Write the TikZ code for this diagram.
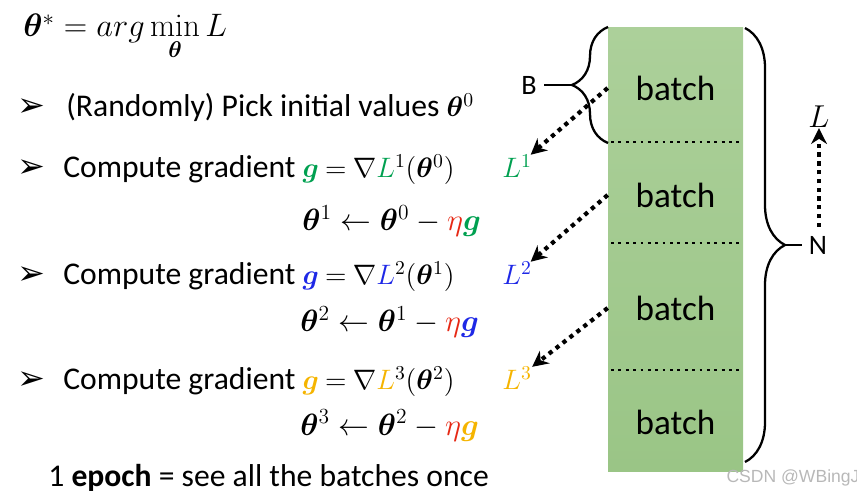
\RequirePackage{fix-cm}
\documentclass[tikz,border=0pt]{standalone}
\usepackage[no-math]{fontspec}
\setmainfont{Carlito}
\newfontfamily\symfont{DejaVu Sans}
\newfontfamily\wmfont{Liberation Sans}
\usepackage{amsmath,bm}
\usetikzlibrary{arrows.meta,decorations.pathreplacing}
\definecolor{ggreen}{RGB}{0,160,80}
\definecolor{gblue}{RGB}{30,40,230}
\definecolor{gorange}{RGB}{245,180,0}
\definecolor{etared}{RGB}{230,40,20}
\definecolor{batchtop}{RGB}{172,208,154}
\definecolor{batchbot}{RGB}{154,197,134}
\newcommand\inmath[1]{{\fontsize{16}{19}\selectfont\thickmuskip=4mu\medmuskip=3mu$#1$}}
\tikzset{
  line/.style={font=\fontsize{18}{21}\selectfont, anchor=base west, inner sep=0pt},
  update/.style={font=\fontsize{17.5}{21}\selectfont, anchor=base west, inner sep=0pt},
  bullet/.style={font=\fontsize{19}{22}\selectfont\symfont, anchor=base, inner sep=0pt},
  batch/.style={font=\fontsize{20}{24}\selectfont, minimum width=2.7cm, inner sep=0pt},
  dotarrow/.style={line width=2.4pt, dash pattern=on 2.4pt off 2.6pt, -{Stealth[length=9pt,width=9pt]}},
  sep/.style={line width=1.6pt, dash pattern=on 1.6pt off 2.6pt},
  bracket/.style={decorate, decoration={brace, amplitude=#1}, line width=1.3pt}
}
\begin{document}
\begin{tikzpicture}[x=0.02cm, y=0.02cm]
\useasboundingbox (0,0) rectangle (857,493);
\node[line, font=\fontsize{18.5}{22}\selectfont] (obj) at (23,456) {$\bm{\theta}^* = arg\min\limits_{\bm{\theta}} L$};
\node[bullet] (b0) at (31,376) {➢};
\node[bullet] (b1) at (31,315) {➢};
\node[bullet] (b2) at (31,208) {➢};
\node[bullet] (b3) at (31,103) {➢};
\node[line] (init) at (66,376) {(Randomly) Pick initial values \inmath{\bm{\theta}^0}};
\node[line] (grad1) at (63,315) {Compute gradient \inmath{\textcolor{ggreen}{\bm{g}} = \nabla \textcolor{ggreen}{L}^1(\bm{\theta}^0)}};
\node[update] (upd1) at (302,262) {$\bm{\theta}^1 \leftarrow \bm{\theta}^0 - \textcolor{etared}{\eta}\textcolor{ggreen}{\bm{g}}$};
\node[line] (grad2) at (63,208) {Compute gradient \inmath{\textcolor{gblue}{\bm{g}} = \nabla \textcolor{gblue}{L}^2(\bm{\theta}^1)}};
\node[update] (upd2) at (300,161) {$\bm{\theta}^2 \leftarrow \bm{\theta}^1 - \textcolor{etared}{\eta}\textcolor{gblue}{\bm{g}}$};
\node[line] (grad3) at (63,103) {Compute gradient \inmath{\textcolor{gorange}{\bm{g}} = \nabla \textcolor{gorange}{L}^3(\bm{\theta}^2)}};
\node[update] (upd3) at (300,58) {$\bm{\theta}^3 \leftarrow \bm{\theta}^2 - \textcolor{etared}{\eta}\textcolor{gorange}{\bm{g}}$};
\node[line] (epoch) at (48,7) {1 \textbf{epoch} = see all the batches once};
\node[line, ggreen] (lone) at (502,315) {\inmath{L^1}};
\node[line, gblue] (ltwo) at (502,208) {\inmath{L^2}};
\node[line, gorange] (lthree) at (502,103) {\inmath{L^3}};
\shade[top color=batchtop, bottom color=batchbot] (608,22) rectangle (743,465);
\node[batch] (bt1) at (675.5,405) {batch};
\node[batch] (bt2) at (675.5,298) {batch};
\node[batch] (bt3) at (675.5,185) {batch};
\node[batch] (bt4) at (675.5,71) {batch};
\draw[sep] (611,351) -- (741,351);
\draw[sep] (611,250) -- (741,250);
\draw[sep] (611,123) -- (741,123);
\draw[dotarrow] (bt1.west) -- (lone);
\draw[dotarrow] (bt2.west) -- (ltwo);
\draw[dotarrow] (bt3.west) -- (lthree);
\draw[bracket=0.72cm] (608,350) -- (608,466) coordinate[midway, xshift=-0.72cm] (btip);
\node[font=\fontsize{16}{19}\selectfont, inner sep=0pt] (B) at (529,408) {B};
\draw[line width=1.3pt] (B.east) ++(7,0) -- (btip);
\draw[bracket=0.8cm] (745,465) -- (745,31) coordinate[midway, xshift=0.8cm] (ntip);
\node[font=\fontsize{16}{19}\selectfont, inner sep=0pt] (N) at (818,248) {N};
\draw[line width=1.3pt] (ntip) -- ([xshift=-4]N.west);
\node[font=\fontsize{18}{21}\selectfont, inner sep=0pt] (lright) at (819,376) {$L$};
\coordinate (lfoot) at (819,266);
\draw[dotarrow] (lfoot) -- (lright);
\node[font=\fontsize{10}{12}\selectfont\wmfont, text=black!28, inner sep=0pt] (wm) at (793,15) {CSDN @WBingJ};
\end{tikzpicture}
\end{document}
